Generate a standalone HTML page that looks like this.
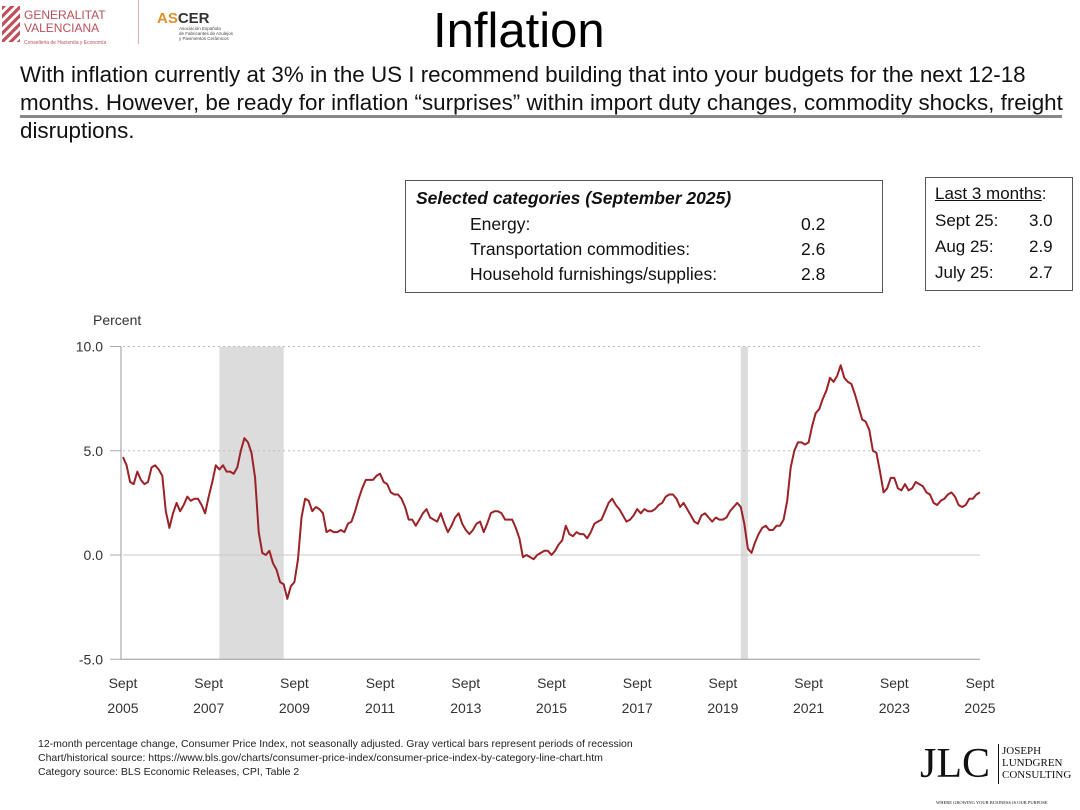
<!DOCTYPE html>
<html><head><meta charset="utf-8"><style>
body{margin:0;width:1080px;height:810px;background:#fff;position:relative;overflow:hidden;font-family:"Liberation Sans","DejaVu Sans",sans-serif;color:#111}
.a{position:absolute;white-space:nowrap}
.box{position:absolute;border:1.5px solid #555;background:#fff}
</style></head><body>
<div class="a" style="left:2px;top:4px;width:120px;height:40px">
 <div class="a" style="left:0;top:2px;width:18px;height:36px;background:repeating-linear-gradient(135deg,#c0505a 0 3px,#fff 3px 6px)"></div>
 <div class="a" style="left:22px;top:5px;font-size:12px;color:#b8505a;line-height:13px">GENERALITAT<br>VALENCIANA</div>
 <div class="a" style="left:22px;top:36px;font-size:5px;color:#b8505a">Conselleria de Hacienda y Economía</div>
</div>
<div class="a" style="left:138px;top:0;width:1px;height:44px;background:#d9b0b0"></div>
<div class="a" style="left:157px;top:10px;font-size:15px;font-weight:bold"><span style="color:#e0902a">AS</span><span style="color:#333">CER</span></div>
<div class="a" style="left:179px;top:26px;font-size:4.5px;line-height:5px;color:#444">Asociación Española<br>de Fabricantes de Azulejos<br>y Pavimentos Cerámicos</div>
<div class="a" style="left:433px;top:3px;font-size:49px;color:#000">Inflation</div>
<div class="a" style="left:20px;top:61px;font-size:22.4px;line-height:28px;color:#111">With inflation currently at 3% in the US I recommend building that into your budgets for the next 12-18<br>months. However, be ready for inflation “surprises” within import duty changes, commodity shocks, freight<br>disruptions.</div>
<div class="a" style="left:20px;top:115px;width:1042px;height:3px;background:#888"></div>
<div class="box" style="left:405px;top:180px;width:476px;height:111px;font-size:17.5px">
 <div class="a" style="left:10px;top:7px;font-style:italic;font-weight:bold">Selected categories (September 2025)</div>
 <div class="a" style="left:64px;top:33px">Energy:</div><div class="a" style="left:395px;top:33px">0.2</div>
 <div class="a" style="left:64px;top:58px">Transportation commodities:</div><div class="a" style="left:395px;top:58px">2.6</div>
 <div class="a" style="left:64px;top:83px">Household furnishings/supplies:</div><div class="a" style="left:395px;top:83px">2.8</div>
</div>
<div class="box" style="left:925px;top:177px;width:146px;height:112px;font-size:17px">
 <div class="a" style="left:9px;top:6px"><u>Last 3 months</u>:</div>
 <div class="a" style="left:9px;top:33px">Sept 25:</div><div class="a" style="left:103px;top:33px">3.0</div>
 <div class="a" style="left:9px;top:59px">Aug 25:</div><div class="a" style="left:103px;top:59px">2.9</div>
 <div class="a" style="left:9px;top:85px">July 25:</div><div class="a" style="left:103px;top:85px">2.7</div>
</div>
<svg id="chart" class="a" style="left:0;top:0" width="1080" height="810"></svg>
<div class="a" style="left:38px;top:737px;font-size:10.5px;line-height:14px;color:#222">12-month percentage change, Consumer Price Index, not seasonally adjusted. Gray vertical bars represent periods of recession<br>Chart/historical source: https://www.bls.gov/charts/consumer-price-index/consumer-price-index-by-category-line-chart.htm<br>Category source: BLS Economic Releases, CPI, Table 2</div>
<div class="a" style="left:920px;top:742px;width:150px;height:66px">
 <div class="a" style="left:0;top:0;font-family:'Liberation Serif',serif;font-size:42px;line-height:44px;color:#111">JLC</div>
 <div class="a" style="left:78px;top:2px;width:1px;height:40px;background:#111"></div>
 <div class="a" style="left:82px;top:3px;font-family:'Liberation Serif',serif;font-size:11px;line-height:12px">JOSEPH<br>LUNDGREN<br>CONSULTING</div>
 <div class="a" style="left:16px;top:58px;font-family:'Liberation Serif',serif;font-size:4.5px">WHERE GROWING YOUR BUSINESS IS OUR PURPOSE</div>
</div>
<script>
const startYear=2005, startMonth=9;
const cpi=[4.7,4.3,3.5,3.4,
4.0,3.6,3.4,3.5,4.2,4.3,4.1,3.8,2.1,1.3,2.0,2.5,
2.1,2.4,2.8,2.6,2.7,2.7,2.4,2.0,2.8,3.5,4.3,4.1,
4.3,4.0,4.0,3.9,4.2,5.0,5.6,5.4,4.9,3.7,1.1,0.1,
0.0,0.2,-0.4,-0.7,-1.3,-1.4,-2.1,-1.5,-1.3,-0.2,1.8,2.7,
2.6,2.1,2.3,2.2,2.0,1.1,1.2,1.1,1.1,1.2,1.1,1.5,
1.6,2.1,2.7,3.2,3.6,3.6,3.6,3.8,3.9,3.5,3.4,3.0,
2.9,2.9,2.7,2.3,1.7,1.7,1.4,1.7,2.0,2.2,1.8,1.7,
1.6,2.0,1.5,1.1,1.4,1.8,2.0,1.5,1.2,1.0,1.2,1.5,
1.6,1.1,1.5,2.0,2.1,2.1,2.0,1.7,1.7,1.7,1.3,0.8,
-0.1,0.0,-0.1,-0.2,0.0,0.1,0.2,0.2,0.0,0.2,0.5,0.7,
1.4,1.0,0.9,1.1,1.0,1.0,0.8,1.1,1.5,1.6,1.7,2.1,
2.5,2.7,2.4,2.2,1.9,1.6,1.7,1.9,2.2,2.0,2.2,2.1,
2.1,2.2,2.4,2.5,2.8,2.9,2.9,2.7,2.3,2.5,2.2,1.9,
1.6,1.5,1.9,2.0,1.8,1.6,1.8,1.7,1.7,1.8,2.1,2.3,
2.5,2.3,1.5,0.3,0.1,0.6,1.0,1.3,1.4,1.2,1.2,1.4,
1.4,1.7,2.6,4.2,5.0,5.4,5.4,5.3,5.4,6.2,6.8,7.0,
7.5,7.9,8.5,8.3,8.6,9.1,8.5,8.3,8.2,7.7,7.1,6.5,
6.4,6.0,5.0,4.9,4.0,3.0,3.2,3.7,3.7,3.2,3.1,3.4,
3.1,3.2,3.5,3.4,3.3,3.0,2.9,2.5,2.4,2.6,2.7,2.9,
3.0,2.8,2.4,2.3,2.4,2.7,2.7,2.9,3.0];
const yTicks=[10,5,0,-5];
const yTickLabels=["10.0","5.0","0.0","-5.0"];
const xTickYears=[2005,2007,2009,2011,2013,2015,2017,2019,2021,2023,2025];
// recession periods in calendar decimal years
const recessionStarts=[2007.917,2020.083];
const recessionEnds=[2009.417,2020.25];
const svg=document.getElementById('chart');
const NS='http://www.w3.org/2000/svg';
const X0=123,X1=980;
const T0=startYear+(startMonth-1)/12;
function xs(t){return X0+(t-T0)/20*(X1-X0);}
function ys(v){return 555-v*20.85;}
function mk(tag,attrs){const e=document.createElementNS(NS,tag);for(const k in attrs)e.setAttribute(k,attrs[k]);svg.appendChild(e);return e;}
for(let i=0;i<recessionStarts.length;i++){
 const r=mk('rect',{x:xs(recessionStarts[i]),y:ys(10),width:xs(recessionEnds[i])-xs(recessionStarts[i]),height:ys(-5)-ys(10),fill:'#dcdcdc'});
 
 
}
yTicks.forEach((v,i)=>{
 const y=ys(v);
 if(v===10||v===5){const l=mk('line',{x1:X0,x2:X1,y1:y,y2:y,stroke:'#bbb','stroke-dasharray':'2,3'});}
 if(v===0){const l=mk('line',{x1:X0,x2:X1,y1:y,y2:y,stroke:'#c8c8c8'});}
 mk('line',{x1:110,x2:121,y1:y,y2:y,stroke:'#aaa'});
 const t=mk('text',{x:103,y:y+5,'text-anchor':'end','font-size':14,fill:'#333','font-family':'Liberation Sans, sans-serif'});
 t.textContent=yTickLabels[i];
 
 
});
mk('line',{x1:121,x2:121,y1:ys(10),y2:ys(-5),stroke:'#999'});
mk('line',{x1:121,x2:X1,y1:ys(-5),y2:ys(-5),stroke:'#999'});
const yl=mk('text',{x:93,y:325,'font-size':14,fill:'#333','font-family':'Liberation Sans, sans-serif'});
yl.textContent='Percent';


xTickYears.forEach(yr=>{
 const x=xs(yr+8/12);
 const a=mk('text',{x:x,y:688,'text-anchor':'middle','font-size':14,fill:'#333','font-family':'Liberation Sans, sans-serif'});
 a.textContent='Sept';
 
 
 const b=mk('text',{x:x,y:713,'text-anchor':'middle','font-size':14,fill:'#333','font-family':'Liberation Sans, sans-serif'});
 b.textContent=String(yr);
 
 
});
let d='';
cpi.forEach((v,i)=>{d+=(i?'L':'M')+xs(T0+i/12).toFixed(1)+','+ys(v).toFixed(1);});
const p=mk('path',{d:d,fill:'none',stroke:'#9b2226','stroke-width':2,'stroke-linejoin':'round'});


</script>
</body></html>
